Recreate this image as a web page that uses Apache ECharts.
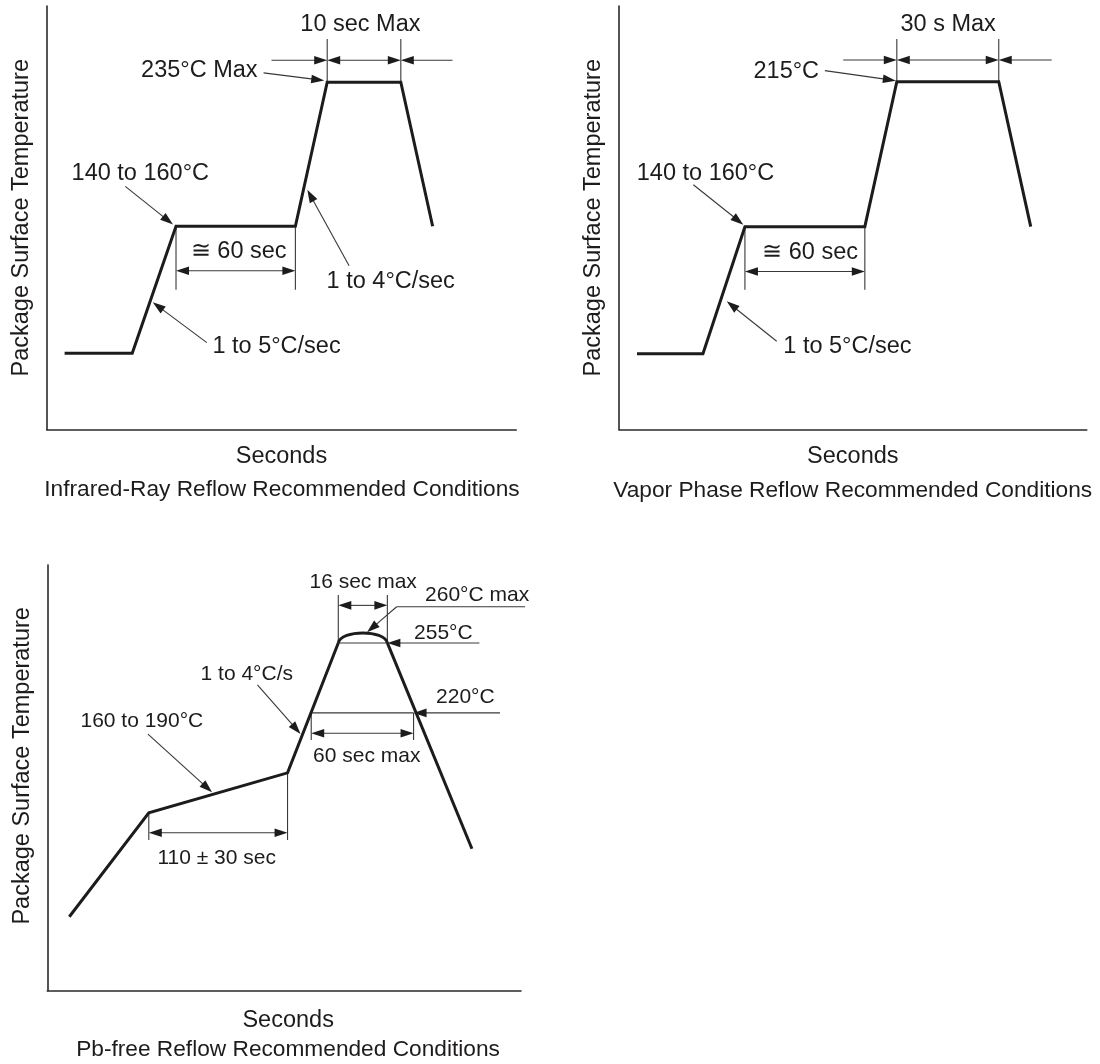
<!DOCTYPE html>
<html><head><meta charset="utf-8">
<script src="https://cdn.jsdelivr.net/npm/echarts@6/dist/echarts.min.js"></script>
<style>html,body{margin:0;padding:0;background:#fff}#c{width:1100px;height:1064px}</style>
</head><body><div id="c"></div>
<script>
// ===== DATA (time in s, temperature in °C; schematic profiles) =====
// Chart 1: Infrared-Ray Reflow
const irProfile = [[9,75],[43,75],[65,150],[125,150],[141,235],[178,235],[194,150]];
const irRange = [0, 236, 30, 280]; // tMin, tMax, Tmin, Tmax
// [t1,T1,t2,T2,headAtStart,headAtEnd]
const irArrows = [
  [109,240.5,139.5,236,0,1],
  [113,248,141,248,0,1],
  [141,248,178,248,1,1],
  [204,248,178,248,0,1],
  [39.5,173.5,63.5,151,0,1],
  [65,123.7,125,123.7,1,1],
  [152,126.7,131,171.5,0,1],
  [80.5,81.3,53.3,105.1,0,1]
];
const irGuides = [[141,235,141,260.5],[178,235,178,260.5],[65,150,65,112.5],[125,150,125,112.5]];
const irLabels = [
  [157.7,268.8,'10 sec Max','center'],
  [106,241.7,'235°C Max','right'],
  [12.5,181.4,'140 to 160°C','left'],
  [96.5,134.8,'\u2245 60 sec','center'],
  [140.7,117.4,'1 to 4°C/sec','left'],
  [83.3,79.1,'1 to 5°C/sec','left']
];

// Chart 2: Vapor Phase Reflow
const vpProfile = [[9,93],[42,93],[63,150],[123,150],[139,215],[190,215],[206,150]];
const vpRange = [0, 234, 59, 249];
const vpArrows = [
  [103,220,138.5,215.5,0,1],
  [112.2,224.8,139,224.8,0,1],
  [139,224.8,190,224.8,1,1],
  [216.5,224.8,190,224.8,0,1],
  [37.2,168.8,62.2,150.9,0,1],
  [63,129.9,123,129.9,1,1],
  [78.9,98.6,53.9,116.5,0,1]
];
const vpGuides = [[139,215,139,234.2],[190,215,190,234.2],[63,150,63,121.7],[123,150,123,121.7]];
const vpLabels = [
  [164.7,240.5,'30 s Max','center'],
  [100.1,219.6,'215°C','right'],
  [8.9,174,'140 to 160°C','left'],
  [95.6,138.4,'\u2245 60 sec','center'],
  [82.2,96.3,'1 to 5°C/sec','left']
];

// Chart 3: Pb-free Reflow
const pbHeat = [[13,118],[60,170],[142,190],[172,255]];
const pbPeak = [172, 201, 255, 260]; // tStart, tEnd, base °C, max °C
const pbCool = [[201,255],[251,152]];
const pbRange = [0, 280, 81, 294];
const pbArrows = [
  [59.5,209.4,97.4,180.3,0,1],
  [60,160,142,160,1,1],
  [124.2,234,149.7,209.5,0,1],
  [172,273.8,201,273.8,1,1],
  [282.4,273.1,206.5,273.1,0,0],
  [206.5,273.1,189,260.3,0,1],
  [255.4,255,201,255,0,1],
  [267.6,220,216.5,220,0,1],
  [156,209.8,216.5,209.8,1,1]
];
const pbGuides = [
  [60,170,60,156.4],[142,190,142,156.4],
  [172,255,172,279],[201,255,201,279],
  [172,255,201,255],
  [156,220,216.5,220],
  [156,220,156,206.4],[216.5,220,216.5,206.4]
];
const pbLabels = [
  [19.6,215.6,'160 to 190°C','left'],
  [100.1,147.2,'110 ± 30 sec','center'],
  [117.9,239.5,'1 to 4°C/s','center'],
  [186.7,285.3,'16 sec max','center'],
  [223.3,279,'260°C max','left'],
  [216.8,260.1,'255°C','left'],
  [229.8,228.1,'220°C','left'],
  [188.8,198.1,'60 sec max','center']
];

const titles = ['Infrared-Ray Reflow Recommended Conditions','Vapor Phase Reflow Recommended Conditions','Pb-free Reflow Recommended Conditions'];
const xName = 'Seconds';
const yName = 'Package Surface Temperature';

// ===== STYLE =====
const FONT = "'Liberation Sans', Arial, Helvetica, sans-serif";
const INK = '#1e1b1c';
const THIN = '#383838';
const AXIS = '#2a2a2a';
const HEAD_LEN = 13, HEAD_HALF = 4.3;

function profileSeries(gi, data){
  return {type:'line', xAxisIndex:gi, yAxisIndex:gi, data:data, symbol:'none', silent:true, z:4,
    lineStyle:{color:INK, width:3, join:'miter'}};
}
function arrowSeries(gi, list){
  return {type:'custom', xAxisIndex:gi, yAxisIndex:gi, silent:true, z:3,
    data:list.map(d=>[d[0],d[1],d[2],d[3]]),
    encode:{x:[0,2], y:[1,3]},
    renderItem:function(params, api){
      const d = list[params.dataIndex];
      const a = api.coord([d[0],d[1]]), b = api.coord([d[2],d[3]]);
      const dx=b[0]-a[0], dy=b[1]-a[1], len=Math.hypot(dx,dy)||1;
      const ux=dx/len, uy=dy/len;
      let x1=a[0], y1=a[1], x2=b[0], y2=b[1];
      const kids=[];
      function head(tx,ty,sx,sy){
        kids.push({type:'polygon', shape:{points:[[tx,ty],
          [tx-sx*HEAD_LEN-sy*HEAD_HALF, ty-sy*HEAD_LEN+sx*HEAD_HALF],
          [tx-sx*HEAD_LEN+sy*HEAD_HALF, ty-sy*HEAD_LEN-sx*HEAD_HALF]]},
          style:{fill:INK, stroke:null}});
      }
      if(d[5]){ head(b[0],b[1],ux,uy); x2=b[0]-ux*(HEAD_LEN-2); y2=b[1]-uy*(HEAD_LEN-2); }
      if(d[4]){ head(a[0],a[1],-ux,-uy); x1=a[0]+ux*(HEAD_LEN-2); y1=a[1]+uy*(HEAD_LEN-2); }
      kids.unshift({type:'line', shape:{x1:x1,y1:y1,x2:x2,y2:y2}, style:{stroke:THIN, lineWidth:1.1, fill:'none'}});
      return {type:'group', children:kids};
    }};
}
function labelSeries(gi, list, size){
  return {type:'custom', xAxisIndex:gi, yAxisIndex:gi, silent:true, z:6,
    data:list.map(d=>[d[0],d[1]]),
    renderItem:function(params, api){
      const d = list[params.dataIndex];
      const p = api.coord([d[0],d[1]]);
      return {type:'text', x:p[0], y:p[1], style:{text:d[2], align:d[3], textAlign:d[3],
        verticalAlign:'middle', textVerticalAlign:'middle', fontSize:size, fontFamily:FONT, fill:INK}};
    }};
}
function peakSeries(gi, pk){
  return {type:'custom', xAxisIndex:gi, yAxisIndex:gi, silent:true, z:4,
    data:[[pk[0],pk[2],pk[1],pk[3]]],
    renderItem:function(params, api){
      const p0=api.coord([pk[0],pk[2]]), p3=api.coord([pk[1],pk[2]]);
      const top=api.coord([(pk[0]+pk[1])/2, pk[3]]);
      const h=(p0[1]-top[1])/0.75, w=p3[0]-p0[0];
      return {type:'bezierCurve', shape:{x1:p0[0],y1:p0[1],x2:p3[0],y2:p3[1],
        cpx1:p0[0]+0.06*w, cpy1:p0[1]-h, cpx2:p3[0]-0.06*w, cpy2:p3[1]-h},
        style:{stroke:INK, lineWidth:3, fill:'none'}};
    }};
}
function xAx(gi, r, gap, pad){
  return {gridIndex:gi, type:'value', min:r[0], max:r[1],
    axisLine:{show:true, onZero:false, lineStyle:{color:AXIS, width:1.6}},
    axisTick:{show:false}, axisLabel:{show:false}, splitLine:{show:false},
    name:xName, nameLocation:'middle', nameGap:gap,
    nameTextStyle:{fontSize:23.5, fontFamily:FONT, color:INK, padding:pad}};
}
function yAx(gi, r, gap, pad){
  return {gridIndex:gi, type:'value', min:r[2], max:r[3],
    axisLine:{show:true, onZero:false, lineStyle:{color:AXIS, width:1.6}},
    axisTick:{show:false}, axisLabel:{show:false}, splitLine:{show:false},
    name:yName, nameLocation:'middle', nameRotate:90, nameGap:gap,
    nameTextStyle:{fontSize:23.5, fontFamily:FONT, color:INK, padding:pad}};
}
function titleText(x, y, t){
  return {type:'text', x:x, y:y, silent:true, style:{text:t, align:'center', textAlign:'center',
    verticalAlign:'middle', textVerticalAlign:'middle', fontSize:22.7, fontFamily:FONT, fill:INK}};
}

const chart = echarts.init(document.getElementById('c'), null, {renderer:'canvas'});
chart.setOption({
  animation:false,
  backgroundColor:'#ffffff',
  grid:[
    {left:46.7, top:6, width:469.5, height:423.5},
    {left:619, top:6, width:467.7, height:423.5},
    {left:47.3, top:565, width:473.7, height:425.7}
  ],
  xAxis:[xAx(0, irRange, 15, 0), xAx(1, vpRange, 15, 0), xAx(2, pbRange, 18, [0,0,0,8])],
  yAxis:[yAx(0, irRange, 13, 0), yAx(1, vpRange, 13, 0), yAx(2, pbRange, 13, [0,0,0,24])],
  graphic:[
    titleText(282, 490, titles[0]),
    titleText(852.7, 490.7, titles[1]),
    titleText(288, 1049.3, titles[2])
  ],
  series:[
    profileSeries(0, irProfile), arrowSeries(0, irArrows), arrowSeries(0, irGuides), labelSeries(0, irLabels, 23.5),
    profileSeries(1, vpProfile), arrowSeries(1, vpArrows), arrowSeries(1, vpGuides), labelSeries(1, vpLabels, 23.5),
    profileSeries(2, pbHeat), peakSeries(2, pbPeak), profileSeries(2, pbCool),
    arrowSeries(2, pbArrows), arrowSeries(2, pbGuides), labelSeries(2, pbLabels, 21)
  ]
});
</script></body></html>
